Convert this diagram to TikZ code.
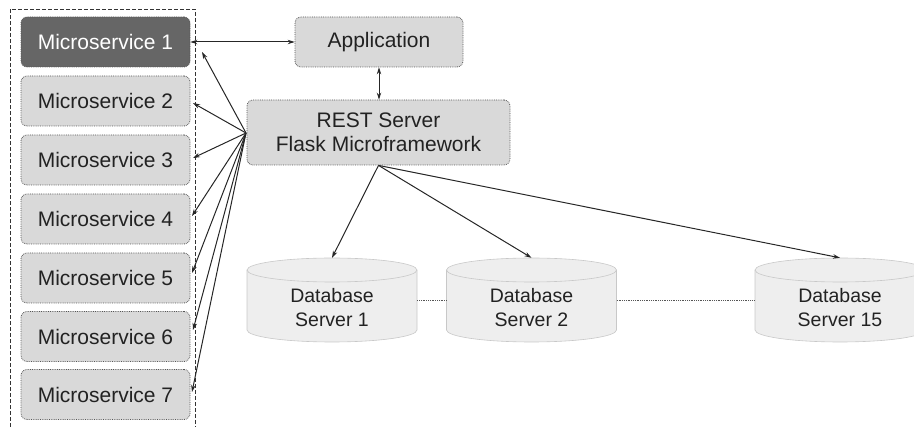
\documentclass[tikz,border=0pt]{standalone}
\usepackage{fontspec}
\setmainfont{Liberation Sans}
\usetikzlibrary{arrows.meta}
\definecolor{boxfill}{HTML}{D9D9D9}
\definecolor{boxline}{HTML}{555555}
\definecolor{darkfill}{HTML}{666666}
\definecolor{dbfill}{HTML}{EEEEEE}
\definecolor{dbline}{HTML}{C8C8C8}
\definecolor{txt}{HTML}{222222}
\begin{document}
\begin{tikzpicture}[x=1pt,y=-1pt,
  box/.style={draw=boxline, densely dotted, line width=0.8pt, fill=boxfill, rounded corners=6pt,
    minimum width=169pt, minimum height=50pt, inner sep=0pt, text=txt,
    font=\fontsize{21}{24}\selectfont, align=center},
  darkbox/.style={box, fill=darkfill, text=white},
  dbtext/.style={minimum width=170pt, minimum height=100pt, inner sep=0pt, text=txt,
    font=\fontsize{19.5}{24}\selectfont, align=center},
  conn/.style={line width=1pt, draw=black!85, -{Stealth[length=7pt,width=4.5pt]}},
  bconn/.style={line width=1pt, draw=black!85, {Stealth[length=7pt,width=4.5pt]}-{Stealth[length=7pt,width=4.5pt]}},
  link/.style={densely dotted, draw=boxline, line width=0.8pt},
  cont/.style={draw=black!80, line width=0.7pt, dash pattern=on 4pt off 2pt}
]
\useasboundingbox (0,0) rectangle (914,427);
\clip (0,0) rectangle (914,427);

% container
\draw[cont] (10,427) -- (10,9) -- (195,9) -- (195,427);

% microservices
\node[darkbox] (ms1) at (105.5,42) {Microservice 1};
\node[box] (ms2) at (105.5,101) {Microservice 2};
\node[box] (ms3) at (105.5,160) {Microservice 3};
\node[box] (ms4) at (105.5,219) {Microservice 4};
\node[box] (ms5) at (105.5,278) {Microservice 5};
\node[box] (ms6) at (105.5,336.5) {Microservice 6};
\node[box] (ms7) at (105.5,394.5) {Microservice 7};

% application and REST server
\node[box, minimum width=168pt] (app) at (379,42) {Application};
\node[box, minimum width=263pt, minimum height=65pt] (rest) at (378.5,132.5) {REST Server\\Flask Microframework};

% databases
\foreach \n/\cx/\lab in {db1/332/Server 1, db2/531.5/Server 2, db15/840/Server 15}{
  \path[fill=dbfill, draw=dbline, line width=0.6pt]
    (\cx-85,270) -- (\cx-85,330)
    arc[start angle=180, end angle=360, x radius=85pt, y radius=12pt]
    -- (\cx+85,270)
    arc[start angle=0, end angle=180, x radius=85pt, y radius=12pt] -- cycle;
  \draw[dbline, line width=0.6pt] (\cx-85,270)
    arc[start angle=180, end angle=360, x radius=85pt, y radius=12pt];
  \node[dbtext] (\n) at (\cx,308) {Database\\\lab};
}

% dotted links between databases
\draw[link] ([yshift=8pt]db1.east) -- ([yshift=8pt]db2.west);
\draw[link] ([yshift=8pt]db2.east) -- ([yshift=8pt]db15.west);

% tips near microservices
\coordinate (t1) at (202,52);
\coordinate (t2) at (193,103);
\coordinate (t3) at (193,158);
\coordinate (t4) at (192,216);
\coordinate (t5) at (192,273);
\coordinate (t6) at (193,330);
\coordinate (t7) at (192,392);
\coordinate (rw) at (246,133);

% connectors
\draw[bconn] (ms1.east) -- (app.west);
\draw[bconn] (app.south) -- (rest.north -| app.south);
\foreach \t in {t1,t2,t3,t4,t5,t6,t7}{
  \draw[conn] (rw) -- (\t);
}
\draw[conn] (rest.south) -- (db1.north);
\draw[conn] (rest.south) -- (db2.north);
\draw[conn] (rest.south) -- (db15.north);
\end{tikzpicture}
\end{document}
